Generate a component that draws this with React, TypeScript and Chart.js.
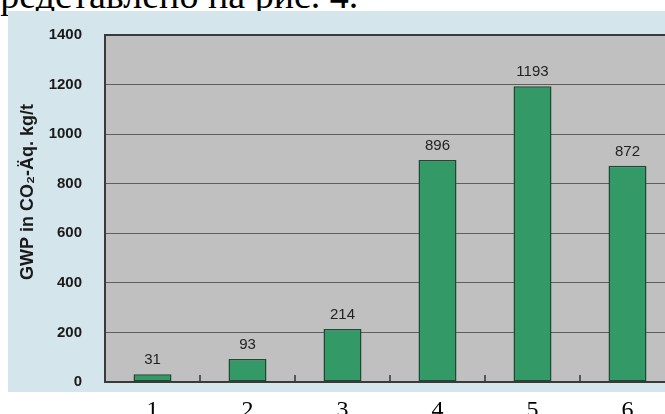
import React, { useEffect, useRef } from "react";
import { Chart, registerables } from "chart.js";

Chart.register(...registerables);

const categories: string[] = ["1", "2", "3", "4", "5", "6"];
const gwpValues: number[] = [31, 93, 214, 896, 1193, 872];
const yMin = 0;
const yMax = 1400;
const yStep = 200;
const yAxisTitle = "GWP in CO₂-Äq. kg/t";
const captionText = "представлено на рис. 4.";

const BLUE_BG = "#d5e5ec";
const PLOT_BG = "#c0c0c0";
const GRID = "#5e5e5e";
const BAR_FILL = "#339966";
const BAR_BORDER = "#1d4a33";

const CANVAS_W = 672;
const CANVAS_H = 420;

const decorPlugin = {
  id: "decor",
  beforeDraw(chart: any) {
    const { ctx, chartArea } = chart;
    ctx.save();
    ctx.fillStyle = BLUE_BG;
    ctx.fillRect(0, 0, chart.width, 381);
    ctx.fillStyle = PLOT_BG;
    ctx.fillRect(chartArea.left, chartArea.top, chartArea.right - chartArea.left, chartArea.bottom - chartArea.top);
    ctx.restore();
  },
  afterDatasetsDraw(chart: any) {
    const { ctx, chartArea } = chart;
    const meta = chart.getDatasetMeta(0);
    const xScale = chart.scales.x;
    ctx.save();
    // category boundary tick marks, pointing up into the plot
    ctx.strokeStyle = "#333";
    ctx.lineWidth = 1.5;
    for (let i = 1; i < categories.length; i++) {
      const x = (xScale.getPixelForValue(i - 1) + xScale.getPixelForValue(i)) / 2;
      ctx.beginPath();
      ctx.moveTo(x, chartArea.bottom);
      ctx.lineTo(x, chartArea.bottom - 7);
      ctx.stroke();
    }
    // value labels
    ctx.fillStyle = "#222";
    ctx.font = "15px 'Liberation Sans', Arial, sans-serif";
    ctx.textAlign = "center";
    ctx.textBaseline = "alphabetic";
    meta.data.forEach((el: any, i: number) => {
      ctx.fillText(String(gwpValues[i]), el.x, el.y - 10);
    });
    // plot border
    ctx.strokeStyle = "#3a3a3a";
    ctx.lineWidth = 2;
    ctx.strokeRect(chartArea.left, chartArea.top, chartArea.right - chartArea.left, chartArea.bottom - chartArea.top);
    // y axis title
    ctx.translate(20, 181);
    ctx.rotate(-Math.PI / 2);
    ctx.fillStyle = "#1a1a1a";
    ctx.font = "bold 18px 'Liberation Sans', Arial, sans-serif";
    ctx.textAlign = "center";
    ctx.textBaseline = "middle";
    ctx.fillText(yAxisTitle, 0, 0);
    ctx.restore();
  },
};

export default function App() {
  const canvasRef = useRef<HTMLCanvasElement | null>(null);

  useEffect(() => {
    if (!canvasRef.current) return;
    const chart = new Chart(canvasRef.current, {
      type: "bar",
      data: {
        labels: categories,
        datasets: [
          {
            data: gwpValues,
            backgroundColor: BAR_FILL,
            borderColor: BAR_BORDER,
            borderWidth: 1.5,
            borderSkipped: false,
            barPercentage: 0.4,
            categoryPercentage: 1,
          },
        ],
      },
      options: {
        responsive: false,
        animation: false,
        devicePixelRatio: 1,
        layout: { autoPadding: false, padding: { top: 24, right: 5, bottom: 0, left: 0 } },
        plugins: { legend: { display: false }, tooltip: { enabled: false } },
        scales: {
          x: {
            offset: true,
            grid: { display: false },
            border: { display: false },
            ticks: {
              color: "#000",
              font: { family: "'Liberation Serif', 'Times New Roman', serif", size: 24 },
              padding: 6,
            },
            afterFit: (scale: any) => {
              scale.height = 49;
            },
          },
          y: {
            min: yMin,
            max: yMax,
            grid: { color: GRID, lineWidth: 1, drawTicks: true, tickLength: 23, tickColor: "rgba(0,0,0,0)" },
            border: { display: false },
            ticks: {
              stepSize: yStep,
              color: "#1a1a1a",
              font: { family: "'Liberation Sans', Arial, sans-serif", size: 15, weight: "bold" },
              padding: 0,
              callback: (v: any) => String(v),
            },
            afterFit: (scale: any) => {
              scale.width = 97;
            },
          },
        },
      },
      plugins: [decorPlugin],
    });
    return () => chart.destroy();
  }, []);

  return (
    <div style={{ position: "fixed", left: 0, top: 0, width: 665, height: 414, overflow: "hidden", background: "#fff" }}>
      <div
        style={{
          position: "absolute",
          left: -20,
          top: -26,
          fontFamily: "'Liberation Serif', 'Times New Roman', serif",
          fontSize: 38,
          lineHeight: "42px",
          color: "#000",
          whiteSpace: "nowrap",
        }}
      >
        {captionText}
      </div>
      <canvas
        ref={canvasRef}
        width={CANVAS_W}
        height={CANVAS_H}
        style={{ position: "absolute", left: 8, top: 11, width: CANVAS_W, height: CANVAS_H }}
      />
    </div>
  );
}
